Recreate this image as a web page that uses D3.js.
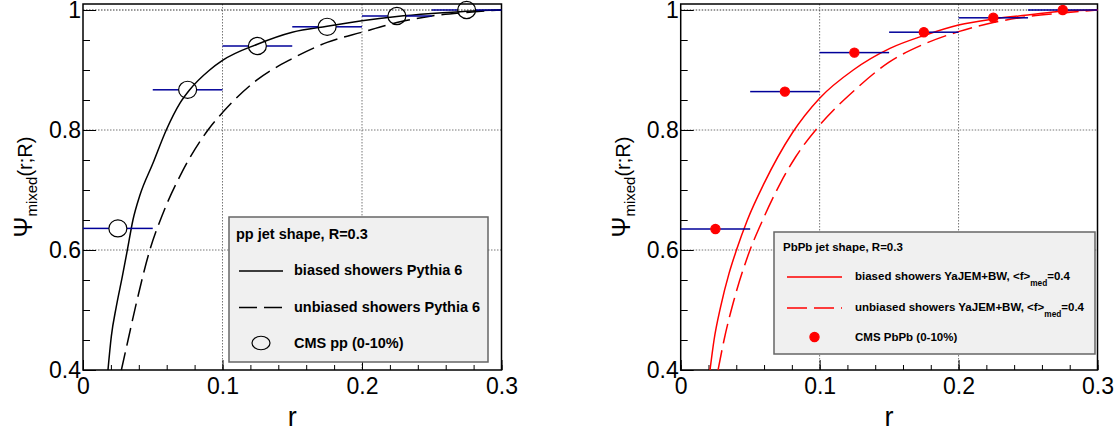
<!DOCTYPE html>
<html>
<head>
<meta charset="utf-8">
<script src="https://cdnjs.cloudflare.com/ajax/libs/d3/7.8.5/d3.min.js"></script>
<style>
body { margin: 0; background: #fff; }
svg { display: block; font-family: "Liberation Sans", Arial, Helvetica, sans-serif; }
.tick text { font-size: 23px; fill: #000; }
</style>
</head>
<body>
<div id="chart"></div>
<script>
// bin centres of the measurement and the half width of each bin
var rBins = [0.025, 0.075, 0.125, 0.175, 0.225, 0.275];
var binHalfWidth = 0.025;

// CMS points (0-10%)
var cmsPP = [0.636, 0.867, 0.940, 0.972, 0.990, 1.0];
var cmsPbPb = [0.635, 0.864, 0.929, 0.963, 0.987, 1.0];

// Pythia 6 curves
var ppBiasedR = [0.0179, 0.0203, 0.0239, 0.0282, 0.0318, 0.0358, 0.0406, 0.0502, 0.0597, 0.0693, 0.0765, 0.0908, 0.1, 0.125, 0.15, 0.175, 0.2, 0.225, 0.25, 0.275, 0.3];
var ppBiasedPsi = [0.4, 0.456, 0.506, 0.556, 0.6, 0.65, 0.69, 0.745, 0.8, 0.844, 0.867, 0.9, 0.916, 0.943, 0.963, 0.973, 0.982, 0.989, 0.994, 0.998, 1.0];

var ppUnbiasedR = [0.0275, 0.0323, 0.0382, 0.0478, 0.0573, 0.0717, 0.0896, 0.1, 0.1245, 0.15, 0.175, 0.2, 0.225, 0.25, 0.275, 0.3];
var ppUnbiasedPsi = [0.4, 0.45, 0.511, 0.599, 0.661, 0.733, 0.8, 0.829, 0.883, 0.919, 0.946, 0.963, 0.979, 0.990, 0.996, 1.0];

// YaJEM+BW curves
var pbBiasedR = [0.0211, 0.024, 0.0288, 0.0348, 0.04, 0.048, 0.06, 0.0803, 0.1, 0.1242, 0.1506, 0.1758, 0.2, 0.2249, 0.2513, 0.275, 0.3];
var pbBiasedPsi = [0.4, 0.45, 0.506, 0.561, 0.599, 0.65, 0.711, 0.795, 0.853, 0.9, 0.936, 0.958, 0.975, 0.985, 0.992, 0.998, 1.0];

var pbUnbiasedR = [0.0269, 0.0312, 0.0384, 0.048, 0.06, 0.0719, 0.0827, 0.1, 0.125, 0.15, 0.175, 0.2, 0.225, 0.25, 0.275, 0.3];
var pbUnbiasedPsi = [0.4, 0.45, 0.517, 0.588, 0.655, 0.712, 0.755, 0.808, 0.866, 0.913, 0.943, 0.964, 0.979, 0.989, 0.995, 1.0];

// axis ticks
var xTicks = [0, 0.1, 0.2, 0.3];
var yTicks = [0.4, 0.6, 0.8, 1];
var xDomain = [0, 0.3];
var yDomain = [0.4, 1.01];

var width = 1117;
var height = 434;
var frameTop = 4;
var frameBot = 370;

var barColor = "#000099";

var svg = d3
    .select("#chart")
    .append("svg")
    .attr("width", width)
    .attr("height", height);

svg.append("rect").attr("width", width).attr("height", height).attr("fill", "#fff");

// pairs r and psi into points for d3.line
function zipCurve(rs, ps) {
    return rs.map(function(r, i) {
        return [r, ps[i]];
    });
}

function drawPanel(p) {
    var g = svg.append("g");

    var xScale = d3.scaleLinear().domain(xDomain).range([p.left, p.right]);
    var yScale = d3.scaleLinear().domain(yDomain).range([frameBot, frameTop]);

    // dotted grid
    g.selectAll(".vgrid")
        .data([0.1, 0.2])
        .enter()
        .append("line")
        .attr("x1", function(d) { return xScale(d); })
        .attr("x2", function(d) { return xScale(d); })
        .attr("y1", frameTop)
        .attr("y2", frameBot)
        .attr("stroke", "#777")
        .attr("stroke-dasharray", "1.5,1.5");

    g.selectAll(".hgrid")
        .data([0.6, 0.8, 1])
        .enter()
        .append("line")
        .attr("x1", p.left)
        .attr("x2", p.right)
        .attr("y1", function(d) { return yScale(d); })
        .attr("y2", function(d) { return yScale(d); })
        .attr("stroke", function(d) { return d === 1 ? "#333" : "#777"; })
        .attr("stroke-dasharray", "1.5,1.5");

    // minor ticks first, then the labelled ones (ticks point into the frame)
    var xMinor = d3.axisBottom(xScale).tickValues(xScale.ticks(15)).tickSize(-5).tickFormat("");
    var yMinor = d3.axisLeft(yScale).tickValues(d3.ticks(0.4, 1, 12)).tickSize(-7).tickFormat("");
    var xAxis = d3.axisBottom(xScale).tickValues(xTicks).tickSize(-10).tickPadding(8).tickFormat(d3.format("~g"));
    var yAxis = d3.axisLeft(yScale).tickValues(yTicks).tickSize(-13).tickPadding(2).tickFormat(d3.format("~g"));

    [xMinor, xAxis].forEach(function(ax) {
        g.append("g")
            .attr("transform", "translate(0," + frameBot + ")")
            .call(ax)
            .call(function(s) { s.select(".domain").remove(); });
    });
    [yMinor, yAxis].forEach(function(ax) {
        g.append("g")
            .attr("transform", "translate(" + p.left + ",0)")
            .call(ax)
            .call(function(s) { s.select(".domain").remove(); });
    });
    g.selectAll(".tick line").attr("stroke", "#000");

    // frame
    g.append("rect")
        .attr("x", p.left)
        .attr("y", frameTop)
        .attr("width", p.right - p.left)
        .attr("height", frameBot - frameTop)
        .attr("fill", "none")
        .attr("stroke", "#000")
        .attr("stroke-width", 1.5);

    // axis titles
    g.append("text")
        .attr("x", (p.left + p.right) / 2)
        .attr("y", 426)
        .attr("text-anchor", "middle")
        .attr("font-size", 27)
        .text("r");

    var yt = g.append("text")
        .attr("transform", "translate(" + (p.left - 51) + "," + ((frameTop + frameBot) / 2) + ")rotate(-90)")
        .attr("text-anchor", "middle");
    yt.append("tspan").attr("font-size", 25).text("\u03A8");
    yt.append("tspan").attr("font-size", 15).attr("dy", 5).text("mixed");
    yt.append("tspan").attr("font-size", 20).attr("dy", -5).text("(r;R)");

    // model curves
    var line = d3.line()
        .x(function(d) { return xScale(d[0]); })
        .y(function(d) { return yScale(d[1]); })
        .curve(d3.curveMonotoneX);

    g.append("path")
        .attr("d", line(zipCurve(p.biasedR, p.biasedPsi)))
        .attr("fill", "none")
        .attr("stroke", p.color)
        .attr("stroke-width", 1.5);

    g.append("path")
        .attr("d", line(zipCurve(p.unbiasedR, p.unbiasedPsi)))
        .attr("fill", "none")
        .attr("stroke", p.color)
        .attr("stroke-width", 1.5)
        .attr("stroke-dasharray", p.dash);

    // horizontal error bars, with a gap where the marker sits
    var pts = rBins.map(function(r, i) { return { r: r, v: p.data[i] }; });
    var gap = p.markerR;
    g.selectAll(".errL")
        .data(pts)
        .enter()
        .append("line")
        .attr("x1", function(d) { return xScale(d.r - binHalfWidth); })
        .attr("x2", function(d) { return xScale(d.r) - gap; })
        .attr("y1", function(d) { return yScale(d.v); })
        .attr("y2", function(d) { return yScale(d.v); })
        .attr("stroke", barColor)
        .attr("stroke-width", 1.5);
    g.selectAll(".errR")
        .data(pts)
        .enter()
        .append("line")
        .attr("x1", function(d) { return xScale(d.r) + gap; })
        .attr("x2", function(d) { return xScale(d.r + binHalfWidth); })
        .attr("y1", function(d) { return yScale(d.v); })
        .attr("y2", function(d) { return yScale(d.v); })
        .attr("stroke", barColor)
        .attr("stroke-width", 1.5);

    g.selectAll(".marker")
        .data(pts)
        .enter()
        .append("ellipse")
        .attr("cx", function(d) { return xScale(d.r); })
        .attr("cy", function(d) { return yScale(d.v); })
        .attr("rx", p.markerR)
        .attr("ry", p.markerR * p.markerSquash)
        .attr("fill", p.markerFill)
        .attr("stroke", p.markerStroke)
        .attr("stroke-width", 1.2);

    // legend box
    var L = p.legend;
    var lg = g.append("g");
    lg.append("rect")
        .attr("x", L.x)
        .attr("y", L.y)
        .attr("width", L.w)
        .attr("height", L.h)
        .attr("fill", "#f0f0f0")
        .attr("stroke", "#666")
        .attr("stroke-width", 1.5);

    lg.append("text")
        .attr("x", L.titleX)
        .attr("y", L.rows[0])
        .attr("font-size", L.size)
        .attr("font-weight", "bold")
        .text(L.title);

    // solid and dashed samples
    [0, 1].forEach(function(k) {
        lg.append("line")
            .attr("x1", L.lineX0)
            .attr("x2", L.lineX1)
            .attr("y1", L.rows[k + 1] - L.lineLift)
            .attr("y2", L.rows[k + 1] - L.lineLift)
            .attr("stroke", p.color)
            .attr("stroke-width", 1.5)
            .attr("stroke-dasharray", k === 1 ? p.dash : null);
    });

    lg.append("ellipse")
        .attr("cx", (L.lineX0 + L.lineX1) / 2)
        .attr("cy", L.rows[3] - L.lineLift - 1)
        .attr("rx", p.markerR)
        .attr("ry", p.markerR * p.legendSquash)
        .attr("fill", p.markerFill)
        .attr("stroke", p.markerStroke)
        .attr("stroke-width", 1.2);

    L.labels.forEach(function(parts, k) {
        var t = lg.append("text")
            .attr("x", L.textX)
            .attr("y", L.rows[k + 1])
            .attr("font-size", L.size)
            .attr("font-weight", "bold");
        parts.forEach(function(part) {
            if (part.sub) {
                t.append("tspan").attr("font-size", L.size * 0.72).attr("dy", 6).text(part.sub);
            } else {
                t.append("tspan").attr("dy", part.up ? -6 : 0).text(part.text);
            }
        });
    });
}

drawPanel({
    left: 83, right: 501.5,
    color: "#000", dash: "18,7",
    biasedR: ppBiasedR, biasedPsi: ppBiasedPsi,
    unbiasedR: ppUnbiasedR, unbiasedPsi: ppUnbiasedPsi,
    data: cmsPP,
    markerR: 9, markerSquash: 0.95, legendSquash: 0.75,
    markerFill: "none", markerStroke: "#000",
    legend: {
        x: 229, y: 217, w: 259, h: 145,
        titleX: 236, textX: 294, lineX0: 239, lineX1: 283, lineLift: 4,
        rows: [239, 275, 311.5, 348],
        size: 14.5,
        title: "pp jet shape, R=0.3",
        labels: [
            [{ text: "biased showers Pythia 6" }],
            [{ text: "unbiased showers Pythia 6" }],
            [{ text: "CMS pp (0-10%)" }]
        ]
    }
});

drawPanel({
    left: 680.7, right: 1097.5,
    color: "#ff0000", dash: "20,7",
    biasedR: pbBiasedR, biasedPsi: pbBiasedPsi,
    unbiasedR: pbUnbiasedR, unbiasedPsi: pbUnbiasedPsi,
    data: cmsPbPb,
    markerR: 4.6, markerSquash: 1, legendSquash: 1,
    markerFill: "#ff0000", markerStroke: "#ff0000",
    legend: {
        x: 774, y: 232, w: 321, h: 122,
        titleX: 783, textX: 855, lineX0: 787, lineX1: 842, lineLift: 3,
        rows: [251, 280, 311, 341],
        size: 11.5,
        title: "PbPb jet shape, R=0.3",
        labels: [
            [{ text: "biased showers YaJEM+BW, <f>" }, { sub: "med" }, { text: "=0.4", up: true }],
            [{ text: "unbiased showers YaJEM+BW, <f>" }, { sub: "med" }, { text: "=0.4", up: true }],
            [{ text: "CMS PbPb (0-10%)" }]
        ]
    }
});
</script>
</body>
</html>
